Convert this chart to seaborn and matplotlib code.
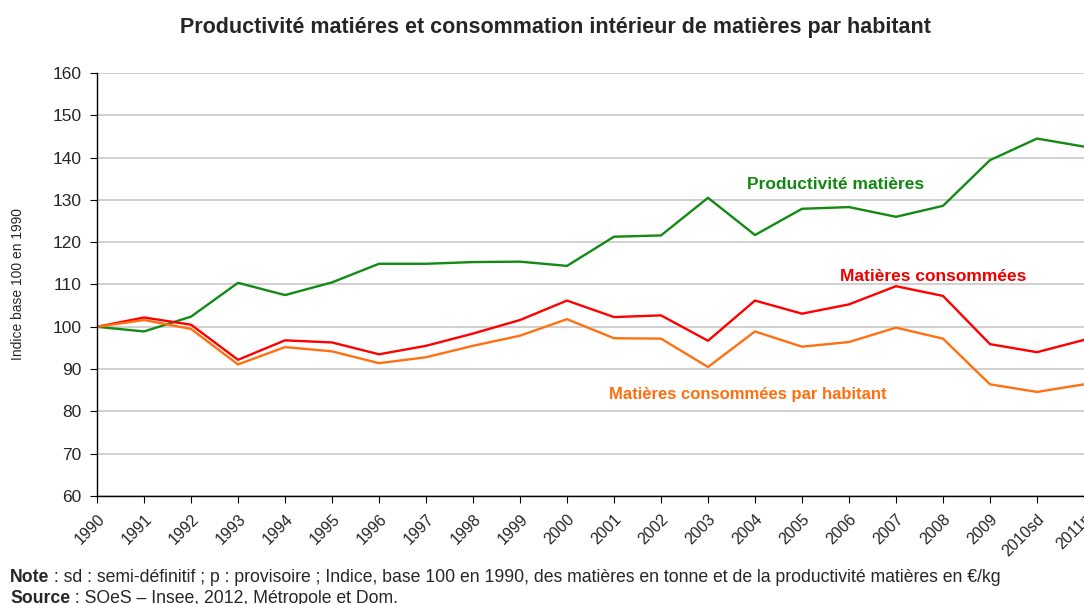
import pandas as pd
import matplotlib.pyplot as plt
import seaborn as sns

# ===== DONNÉES =====
annees = ['1990', '1991', '1992', '1993', '1994', '1995', '1996', '1997', '1998', '1999',
          '2000', '2001', '2002', '2003', '2004', '2005', '2006', '2007', '2008', '2009',
          '2010sd', '2011p']
productivite = [100, 98.9, 102.4, 110.4, 107.5, 110.5, 114.9, 114.9, 115.3, 115.4,
                114.4, 121.3, 121.6, 130.5, 121.7, 127.9, 128.3, 126.0, 128.6, 139.4,
                144.5, 142.6]
consommees = [100, 102.2, 100.5, 92.2, 96.8, 96.3, 93.5, 95.5, 98.4, 101.6,
              106.2, 102.3, 102.7, 96.7, 106.2, 103.1, 105.3, 109.6, 107.3, 95.9,
              94.0, 96.9]
par_habitant = [100, 101.6, 99.5, 91.1, 95.2, 94.2, 91.4, 92.8, 95.5, 97.9,
                101.8, 97.3, 97.2, 90.5, 98.9, 95.3, 96.4, 99.8, 97.2, 86.4,
                84.6, 86.4]
series = ['Productivité matières', 'Matières consommées', 'Matières consommées par habitant']
couleurs = ['#138a13', '#ff0000', '#ff7010']
couleurs_texte = ['#118811', '#ee0000', '#ff6f10']

df = pd.DataFrame({
    'annee': annees * 3,
    'pos': list(range(len(annees))) * 3,
    'valeur': productivite + consommees + par_habitant,
    'serie': [s for s in series for _ in annees],
})

# ===== GRAPHIQUE =====
sns.set_style('white')
plt.rcParams['font.family'] = ['Liberation Sans', 'DejaVu Sans']

fig = plt.figure(figsize=(10.84, 6.04), dpi=100)
ax = fig.add_axes([97 / 1084, 1 - 496 / 604, (1084 - 97) / 1084, (496 - 73) / 604])

sns.lineplot(data=df, x='pos', y='valeur', hue='serie', hue_order=series,
             palette=couleurs, linewidth=1.7, legend=False, ax=ax, sort=False)

ax.set_xlim(0, len(annees) - 1)
ax.set_ylim(60, 160)
ax.set_yticks(range(60, 161, 10))
ax.set_xticks(range(len(annees)))
ax.set_xticklabels(annees, rotation=45, ha='right', rotation_mode='anchor', fontsize=11.5)
ax.tick_params(axis='y', labelsize=12.5, length=5, direction='out', left=True, color='black', pad=6)
ax.tick_params(axis='x', length=5, direction='out', bottom=True, color='black', pad=6)
ax.yaxis.grid(True, color='#c8c8c8', linewidth=1.2)
ax.set_axisbelow(True)
for c in ['top', 'right']:
    ax.spines[c].set_visible(False)
for c in ['left', 'bottom']:
    ax.spines[c].set_color('black')
    ax.spines[c].set_linewidth(1.0)
ax.set_xlabel('')
ax.set_ylabel('Indice base 100 en 1990', fontsize=10, labelpad=20)

# étiquettes des séries
ax.text(15.72, 133.6, series[0], color=couleurs_texte[0], fontsize=12.5, fontweight='bold', ha='center', va='center')
ax.text(17.8, 112.0, series[1], color=couleurs_texte[1], fontsize=12.5, fontweight='bold', ha='center', va='center')
ax.text(13.84, 84.0, series[2], color=couleurs_texte[2], fontsize=12, fontweight='bold', ha='center', va='center')

fig.text(555 / 1084, 1 - 28 / 604, 'Productivité matiéres et consommation intérieur de matières par habitant',
         ha='center', va='center', fontsize=15.5, fontweight='bold')

# notes en bas
fig.canvas.draw()
rend = fig.canvas.get_renderer()
for y, gras, reste in [(582, 'Note', ' : sd : semi-définitif ; p : provisoire ; Indice, base 100 en 1990, des matières en tonne et de la productivité matières en €/kg'),
                       (603, 'Source', ' : SOeS – Insee, 2012, Métropole et Dom.')]:
    t = fig.text(10 / 1084, 1 - y / 604, gras, fontsize=12.7, fontweight='bold', va='baseline')
    bb = t.get_window_extent(rend)
    fig.text(bb.x1 / fig.bbox.width, 1 - y / 604, reste, fontsize=12.7, va='baseline')

plt.savefig('out.png', dpi=100)
